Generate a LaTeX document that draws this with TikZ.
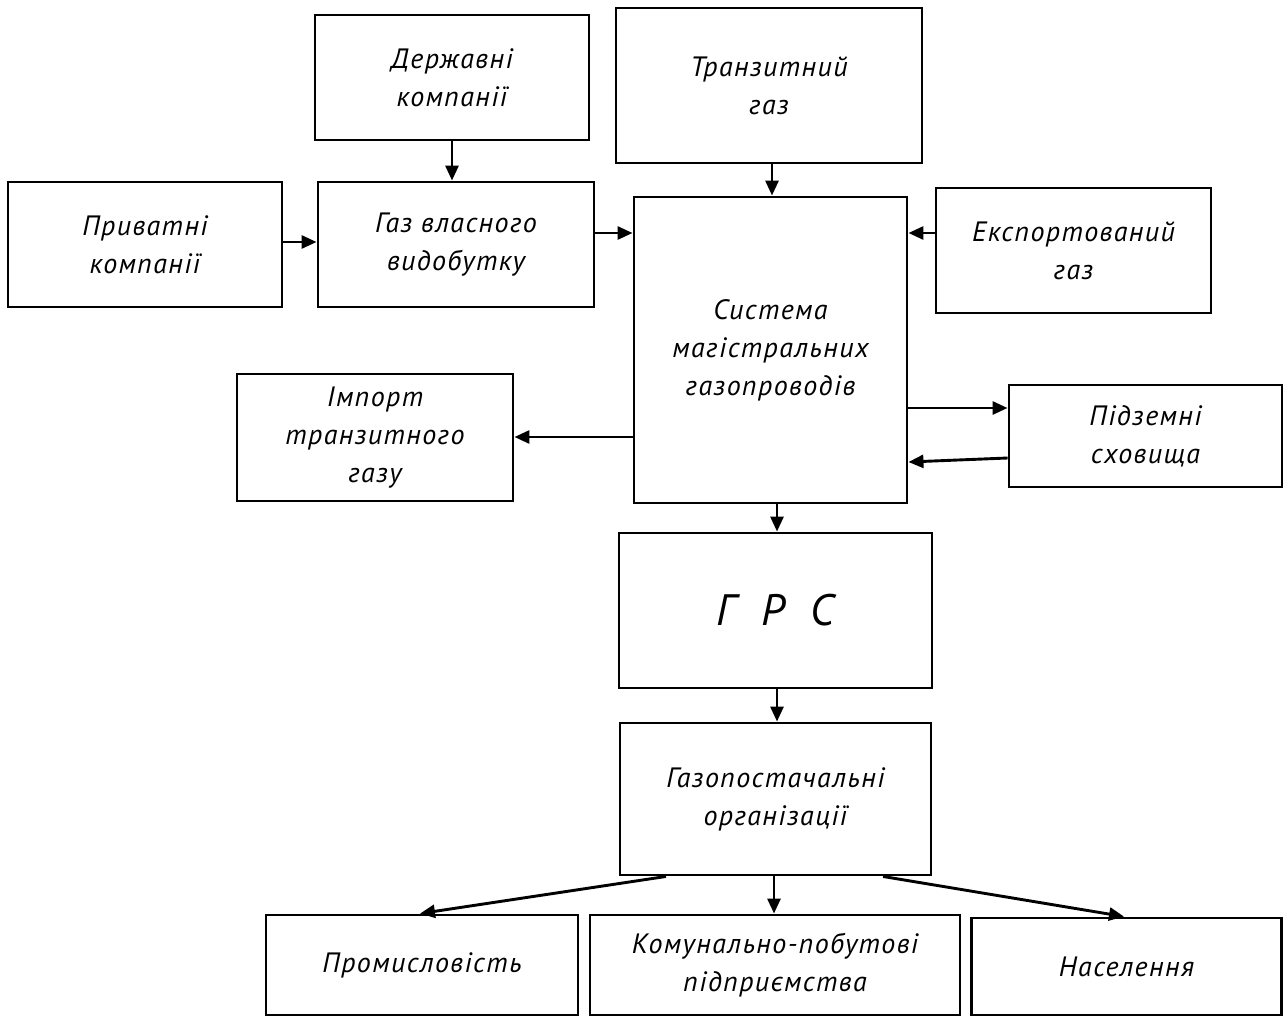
\documentclass[tikz,border=0pt]{standalone}
\usepackage{fontspec}
\setmainfont{PT Sans}[LetterSpace=5]
\usetikzlibrary{arrows.meta}
\begin{document}
\begin{tikzpicture}[x=1pt,y=-1pt,
  box/.style={draw=black, line width=2.9pt, fill=white, inner sep=2pt, align=center,
    font=\itshape\fontsize{28}{38}\selectfont},
  arr/.style={line width=2.9pt, -{Triangle[length=15pt,width=13pt]}}
]
\useasboundingbox (0,0) rectangle (1284,1017);
\fill[white] (0,0) rectangle (1284,1017);

\node[box, minimum width=274pt, minimum height=125pt] (derzh) at (452,77.5) {Державні\\компанії};
\node[box, minimum width=274pt, minimum height=125pt] (pryv) at (145,244.5) {Приватні\\компанії};
\node[box, minimum width=276pt, minimum height=125pt] (gaz) at (456,244.5) {Газ власного\\видобутку};
\node[box, minimum width=306pt, minimum height=155pt] (tranz) at (769,85.5) {Транзитний\\газ};
\node[box, minimum width=273pt, minimum height=306pt] (sys) at (770.5,350) {Система\\магістральних\\газопроводів};
\node[box, minimum width=275pt, minimum height=125pt] (eksp) at (1073.5,250.5) {Експортований\\газ};
\node[box, minimum width=276pt, minimum height=127pt] (imp) at (375,437.5) {Імпорт\\транзитного\\газу};
\node[box, minimum width=273pt, minimum height=102pt] (pidz) at (1145.5,436) {Підземні\\сховища};
\node[box, minimum width=313pt, minimum height=155pt, font=\itshape\fontsize{44}{50}\selectfont] (grs) at (775.5,610.5) {Г\hspace{0.6em}Р\hspace{0.6em}С};
\node[box, minimum width=311pt, minimum height=152pt] (gpo) at (775.5,799) {Газопостачальні\\організації};
\node[box, minimum width=312pt, minimum height=100pt] (prom) at (422,965) {Промисловість};
\node[box, minimum width=370pt, minimum height=100pt] (komun) at (775,965) {Комунально-побутові\\підприємства};
\node[box, minimum width=310pt, minimum height=97pt] (nasel) at (1126.5,966.5) {Населення};

\draw[arr] (derzh.south) -- (derzh.south |- gaz.north);
\draw[arr] (pryv.east |- 0,242) -- (gaz.west |- 0,242);
\draw[arr] (gaz.east |- 0,233) -- (sys.west |- 0,233);
\draw[arr] (772,0 |- tranz.south) -- (772,0 |- sys.north);
\draw[arr] (eksp.west |- 0,233) -- (sys.east |- 0,233);
\draw[arr] (sys.west |- 0,437) -- (imp.east |- 0,437);
\draw[arr] (sys.east |- 0,408) -- (pidz.west |- 0,408);
\draw[arr] (pidz.west |- 0,458) -- (sys.east |- 0,462);
\draw[arr] (777,0 |- sys.south) -- (777,0 |- grs.north);
\draw[arr] (777,0 |- grs.south) -- (777,0 |- gpo.north);
\draw[arr] (666,0 |- gpo.south) -- (420,0 |- prom.north);
\draw[arr] (774,0 |- gpo.south) -- (774,0 |- komun.north);
\draw[arr] (883,0 |- gpo.south) -- (1124,0 |- nasel.north);
\end{tikzpicture}
\end{document}
